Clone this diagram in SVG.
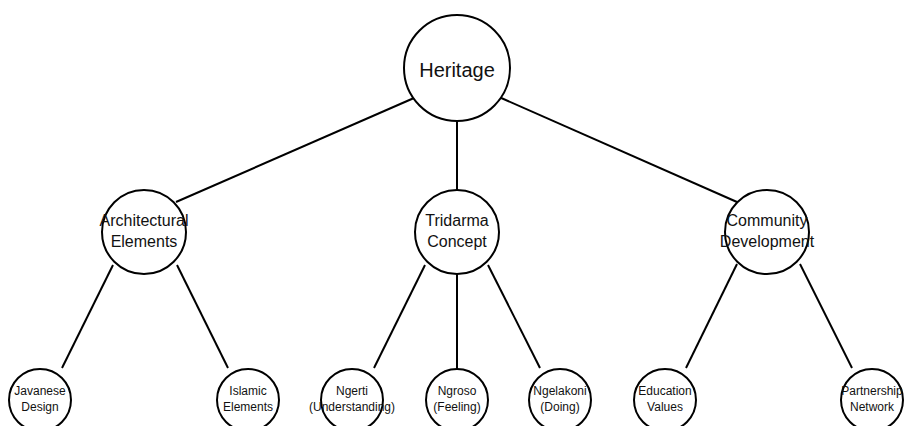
<svg xmlns="http://www.w3.org/2000/svg" width="904" height="426" viewBox="0 0 904 426">
<style>
.n{fill:#fff;stroke:#000;stroke-width:2}
.e{stroke:#000;stroke-width:2;fill:none}
text{font-family:"Liberation Sans",Arial,sans-serif;fill:#111;text-anchor:middle}
.t0{font-size:20px}
.t1{font-size:16px}
.t2{font-size:12px}
</style>
<rect width="904" height="426" fill="#fff"/>
<g id="connectors">
<line class="e" x1="414" y1="98" x2="176" y2="202"/>
<line class="e" x1="457" y1="121" x2="457" y2="190"/>
<line class="e" x1="499" y1="97" x2="737" y2="202"/>
<line class="e" x1="113" y1="265" x2="62" y2="368"/>
<line class="e" x1="177" y1="265" x2="228" y2="368"/>
<line class="e" x1="425" y1="265" x2="374" y2="368"/>
<line class="e" x1="457" y1="274" x2="457" y2="369"/>
<line class="e" x1="488" y1="265" x2="540" y2="368"/>
<line class="e" x1="737" y1="264" x2="686" y2="368"/>
<line class="e" x1="800" y1="264" x2="852" y2="368"/>
</g>
<g id="heritage"><circle class="n" cx="457" cy="68" r="53"/><text class="t0" x="457" y="77">Heritage</text></g>
<g id="architectural"><circle class="n" cx="144" cy="232" r="42"/><text class="t1" x="144" y="226">Architectural</text><text class="t1" x="144" y="247">Elements</text></g>
<g id="tridarma"><circle class="n" cx="457" cy="232" r="42"/><text class="t1" x="457" y="226">Tridarma</text><text class="t1" x="457" y="247">Concept</text></g>
<g id="community"><circle class="n" cx="767" cy="232" r="42"/><text class="t1" x="767" y="226">Community</text><text class="t1" x="767" y="247">Development</text></g>
<g id="javanese"><circle class="n" cx="40" cy="400" r="31"/><text class="t2" x="40" y="395">Javanese</text><text class="t2" x="40" y="411">Design</text></g>
<g id="islamic"><circle class="n" cx="248" cy="400" r="31"/><text class="t2" x="248" y="395">Islamic</text><text class="t2" x="248" y="411">Elements</text></g>
<g id="ngerti"><circle class="n" cx="352" cy="400" r="31"/><text class="t2" x="352" y="395">Ngerti</text><text class="t2" x="352" y="411">(Understanding)</text></g>
<g id="ngroso"><circle class="n" cx="457" cy="400" r="31"/><text class="t2" x="457" y="395">Ngroso</text><text class="t2" x="457" y="411">(Feeling)</text></g>
<g id="ngelakoni"><circle class="n" cx="560" cy="400" r="31"/><text class="t2" x="560" y="395">Ngelakoni</text><text class="t2" x="560" y="411">(Doing)</text></g>
<g id="education"><circle class="n" cx="665" cy="400" r="31"/><text class="t2" x="665" y="395">Education</text><text class="t2" x="665" y="411">Values</text></g>
<g id="partnership"><circle class="n" cx="872" cy="400" r="31"/><text class="t2" x="872" y="395">Partnership</text><text class="t2" x="872" y="411">Network</text></g>
</svg>
